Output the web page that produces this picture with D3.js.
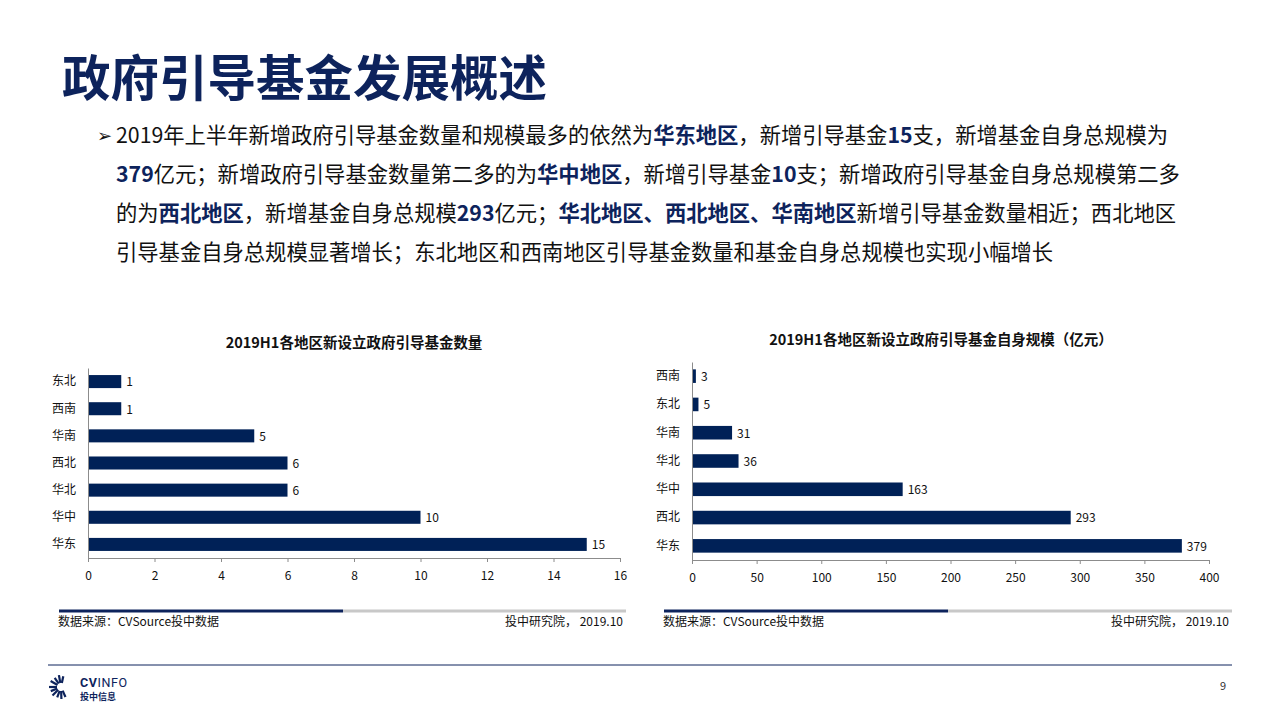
<!DOCTYPE html>
<html>
<head>
<meta charset="utf-8">
<script src="https://cdn.jsdelivr.net/npm/d3@7/dist/d3.min.js"></script>
<style>
  html, body { margin: 0; padding: 0; background: #fff; }
  svg { display: block; font-family: "Noto Sans CJK SC", "Noto Sans", sans-serif; }
</style>
</head>
<body>
<svg id="slide" width="1280" height="720"></svg>
<script>
(function () {
  'use strict';

  // ─── Data ─────────────────────────────────────────
  const countRegions = ['东北', '西南', '华南', '西北', '华北', '华中', '华东'];
  const countValues = [1, 1, 5, 6, 6, 10, 15];
  const countTicks = [0, 2, 4, 6, 8, 10, 12, 14, 16];

  const scaleRegions = ['西南', '东北', '华南', '华北', '华中', '西北', '华东'];
  const scaleValues = [3, 5, 31, 36, 163, 293, 379];
  const scaleTicks = [0, 50, 100, 150, 200, 250, 300, 350, 400];

  const pageTitle = '政府引导基金发展概述';
  // each line: list of [text, highlighted]
  const bodyLines = [
    [['2019年上半年新增政府引导基金数量和规模最多的依然为', 0], ['华东地区', 1], ['，新增引导基金', 0], ['15', 1], ['支，新增基金自身总规模为', 0]],
    [['379', 1], ['亿元；新增政府引导基金数量第二多的为', 0], ['华中地区', 1], ['，新增引导基金', 0], ['10', 1], ['支；新增政府引导基金自身总规模第二多', 0]],
    [['的为', 0], ['西北地区', 1], ['，新增基金自身总规模', 0], ['293', 1], ['亿元；', 0], ['华北地区、西北地区、华南地区', 1], ['新增引导基金数量相近；西北地区', 0]],
    [['引导基金自身总规模显著增长；东北地区和西南地区引导基金数量和基金自身总规模也实现小幅增长', 0]]
  ];

  const NAVY = '#0d235c';
  const BAR = '#002157';
  const svg = d3.select('#slide');

  // ─── Header ───────────────────────────────────────
  svg.append('text')
    .attr('x', 62).attr('y', 96)
    .attr('fill', NAVY)
    .style('font-size', '48.5px')
    .style('font-weight', '700')
    .text(pageTitle);

  svg.append('text')
    .attr('x', 97).attr('y', 142)
    .attr('fill', '#111')
    .style('font-family', '"DejaVu Sans", sans-serif')
    .style('font-size', '18px')
    .text('➢');

  bodyLines.forEach(function (line, i) {
    const t = svg.append('text')
      .attr('x', 116).attr('y', 143 + i * 39)
      .attr('fill', '#111')
      .style('font-size', '21.3px');
    line.forEach(function (seg) {
      t.append('tspan')
        .attr('fill', seg[1] ? NAVY : '#111')
        .style('font-weight', seg[1] ? '700' : '400')
        .text(seg[0]);
    });
  });

  // ─── Bar chart ────────────────────────────────────
  function drawBarChart(opts) {
    const g = svg.append('g');

    g.append('text')
      .attr('x', opts.titleX).attr('y', opts.titleY)
      .attr('text-anchor', 'middle')
      .attr('fill', '#111')
      .style('font-size', '14.5px')
      .style('font-weight', '700')
      .text(opts.title);

    const x = d3.scaleLinear()
      .domain([opts.ticks[0], opts.ticks[opts.ticks.length - 1]])
      .range([opts.left, opts.right]);

    const y = d3.scaleBand()
      .domain(opts.categories)
      .range([opts.top, opts.bottom])
      .paddingInner(0.52)
      .paddingOuter(0.26);

    // bars
    g.selectAll('rect.bar')
      .data(opts.values)
      .enter().append('rect')
      .attr('class', 'bar')
      .attr('x', x(0))
      .attr('y', function (d, i) { return y(opts.categories[i]); })
      .attr('width', function (d) { return x(d) - x(0); })
      .attr('height', y.bandwidth())
      .attr('fill', BAR);

    // value labels
    g.selectAll('text.val')
      .data(opts.values)
      .enter().append('text')
      .attr('class', 'val')
      .attr('x', function (d) { return x(d) + 5; })
      .attr('y', function (d, i) { return y(opts.categories[i]) + y.bandwidth() / 2; })
      .attr('dy', '0.4em')
      .attr('fill', '#111')
      .style('font-size', '12px')
      .text(function (d) { return d; });

    // x axis
    const xAxis = d3.axisBottom(x)
      .tickValues(opts.ticks)
      .tickSize(4)
      .tickPadding(9)
      .tickSizeOuter(0);
    const gx = g.append('g')
      .attr('transform', 'translate(0,' + opts.bottom + ')')
      .call(xAxis);
    gx.select('.domain').attr('stroke', '#8c8c8c');
    gx.selectAll('.tick line').attr('stroke', '#8c8c8c');
    gx.selectAll('.tick text')
      .attr('fill', '#111')
      .style('font-family', '"Noto Sans CJK SC", sans-serif')
      .style('font-size', '12px');

    // y axis
    const yAxis = d3.axisLeft(y).tickSize(0).tickPadding(12);
    const gy = g.append('g')
      .attr('transform', 'translate(' + opts.left + ',0)')
      .call(yAxis);
    gy.select('.domain').attr('stroke', '#8c8c8c');
    gy.selectAll('.tick text')
      .attr('fill', '#111')
      .style('font-family', '"Noto Sans CJK SC", sans-serif')
      .style('font-size', '12px');

    // footer line + source
    const fy = opts.footY;
    g.append('line')
      .attr('x1', opts.footL).attr('x2', opts.footM)
      .attr('y1', fy).attr('y2', fy)
      .attr('stroke', '#0d235c').attr('stroke-width', 3);
    g.append('line')
      .attr('x1', opts.footM).attr('x2', opts.footR)
      .attr('y1', fy).attr('y2', fy)
      .attr('stroke', '#c8c8c8').attr('stroke-width', 3);
    g.append('text')
      .attr('x', opts.footL - 1).attr('y', fy + 15)
      .attr('fill', '#111')
      .style('font-size', '12px')
      .text('数据来源：CVSource投中数据');
    g.append('text')
      .attr('x', opts.footR - 3).attr('y', fy + 15)
      .attr('text-anchor', 'end')
      .attr('fill', '#111')
      .style('font-size', '12px')
      .text('投中研究院， 2019.10');
  }

  drawBarChart({
    title: '2019H1各地区新设立政府引导基金数量',
    titleX: 354, titleY: 348,
    categories: countRegions, values: countValues, ticks: countTicks,
    left: 88, right: 620, top: 368, bottom: 558,
    footY: 611, footL: 59, footM: 343, footR: 626
  });

  drawBarChart({
    title: '2019H1各地区新设立政府引导基金自身规模（亿元）',
    titleX: 941, titleY: 345,
    categories: scaleRegions, values: scaleValues, ticks: scaleTicks,
    left: 692, right: 1209, top: 362, bottom: 560,
    footY: 611, footL: 664, footM: 948, footR: 1232
  });

  // ─── Page footer ──────────────────────────────────
  svg.append('line')
    .attr('x1', 48).attr('x2', 1232)
    .attr('y1', 665).attr('y2', 665)
    .attr('stroke', NAVY).attr('stroke-width', 1);

  svg.append('text')
    .attr('x', 1226).attr('y', 690)
    .attr('text-anchor', 'end')
    .attr('fill', '#333')
    .style('font-size', '11px')
    .text('9');

  // logo: radiating strokes
  const logo = svg.append('g').attr('transform', 'translate(61,687)');
  const rays = [-150, -125, -100, -78, 180, 158, 135, 110, 88, 66];
  rays.forEach(function (a, i) {
    const r = a * Math.PI / 180;
    const r0 = 4, r1 = (i % 2 ? 11 : 12);
    logo.append('line')
      .attr('x1', Math.cos(r) * r0).attr('y1', Math.sin(r) * r0)
      .attr('x2', Math.cos(r) * r1).attr('y2', Math.sin(r) * r1)
      .attr('stroke', NAVY).attr('stroke-width', 2.2)
      .attr('stroke-linecap', 'butt');
  });

  const lt = svg.append('text')
    .attr('x', 80).attr('y', 687)
    .attr('fill', NAVY)
    .style('font-family', 'Roboto, sans-serif')
    .style('font-size', '12.5px')
    .style('letter-spacing', '0.6px');
  lt.append('tspan').style('font-weight', '700').text('CV');
  lt.append('tspan').style('font-weight', '400').text('INFO');

  svg.append('text')
    .attr('x', 80).attr('y', 700)
    .attr('fill', NAVY)
    .style('font-size', '9px')
    .style('font-weight', '700')
    .text('投中信息');
})();
</script>
</body>
</html>
